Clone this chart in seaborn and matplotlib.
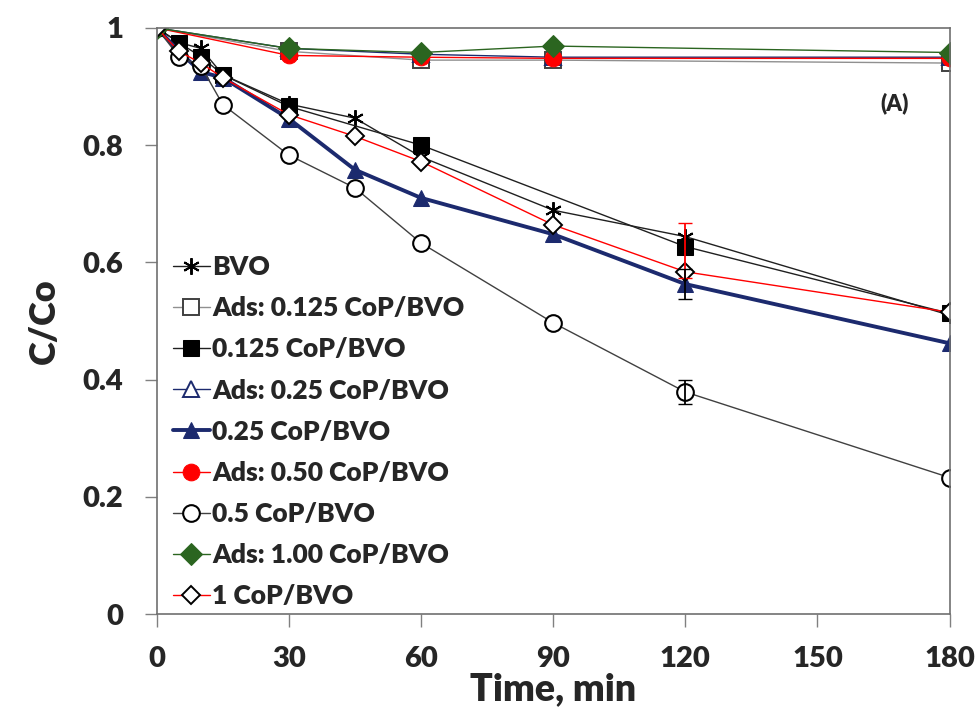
import numpy as np
import matplotlib
matplotlib.use('Agg')
import matplotlib.pyplot as plt
import seaborn as sns

# ============ DATA ============
t_full = [0, 5, 10, 15, 30, 45, 60, 90, 120, 180]
t_ads = [0, 30, 60, 90, 180]
t_125 = [0, 5, 10, 15, 30, 60, 120, 180]

bvo = [1.0, 0.975, 0.965, 0.92, 0.87, 0.846, 0.78, 0.689, 0.644, 0.51]
ads_0125 = [1.0, 0.96, 0.945, 0.945, 0.94]
cop_0125 = [1.0, 0.975, 0.951, 0.92, 0.866, 0.80, 0.627, 0.513]
ads_025 = [1.0, 0.965, 0.955, 0.95, 0.95]
cop_025 = [1.0, 0.96, 0.925, 0.915, 0.845, 0.758, 0.71, 0.648, 0.563, 0.462]
ads_050 = [1.0, 0.953, 0.95, 0.948, 0.948]
cop_05 = [1.0, 0.951, 0.935, 0.869, 0.783, 0.727, 0.633, 0.497, 0.379, 0.233]
ads_100 = [1.0, 0.965, 0.958, 0.969, 0.958]
cop_1 = [1.0, 0.96, 0.94, 0.915, 0.852, 0.815, 0.772, 0.664, 0.584, 0.515]

labels = ['BVO', 'Ads: 0.125 CoP/BVO', '0.125 CoP/BVO', 'Ads: 0.25 CoP/BVO',
          '0.25 CoP/BVO', 'Ads: 0.50 CoP/BVO', '0.5 CoP/BVO',
          'Ads: 1.00 CoP/BVO', '1 CoP/BVO']

# ============ STYLE PER SERIES ============
navy = '#1c2a6e'
green = '#2b6520'
series = [
    (t_full, bvo, dict(color='#202020', lw=1.0, marker=(6, 2, 0), ms=12, mec='black', mew=1.4)),
    (t_ads, ads_0125, dict(color='#909090', lw=1.0, marker='s', ms=11, mfc='white', mec='#404040', mew=1.4)),
    (t_125, cop_0125, dict(color='#202020', lw=1.0, marker='s', ms=11, mfc='black', mec='black')),
    (t_ads, ads_025, dict(color=navy, lw=1.0, marker='^', ms=11, mfc='white', mec=navy, mew=1.4)),
    (t_full, cop_025, dict(color=navy, lw=2.8, marker='^', ms=12, mfc=navy, mec=navy)),
    (t_ads, ads_050, dict(color='red', lw=1.0, marker='o', ms=12, mfc='red', mec='red')),
    (t_full, cop_05, dict(color='#404040', lw=1.0, marker='o', ms=12, mfc='white', mec='black', mew=1.5)),
    (t_ads, ads_100, dict(color=green, lw=1.0, marker='D', ms=11, mfc=green, mec=green)),
    (t_full, cop_1, dict(color='red', lw=1.0, marker='D', ms=9, mfc='white', mec='black', mew=1.4)),
]

sns.set_theme(style='white')
plt.rcParams['font.family'] = ['Lato', 'DejaVu Sans']
plt.rcParams['font.weight'] = 'bold'

fig = plt.figure(figsize=(9.8, 7.15), dpi=100)
ax = fig.add_axes([0.160, 0.141, 0.809, 0.820])

for (t, y, kw), lab in zip(series, labels):
    sns.lineplot(x=t, y=y, ax=ax, label=lab, **kw)

# error bars at 120 min
ax.errorbar([120], [0.584], yerr=[[0.01], [0.083]], fmt='none', ecolor='red', elinewidth=1.3, capsize=5)
ax.errorbar([120], [0.563], yerr=0.025, fmt='none', ecolor='black', elinewidth=1.3, capsize=5)
ax.errorbar([120], [0.379], yerr=0.02, fmt='none', ecolor='black', elinewidth=1.3, capsize=5)

ax.set_xlim(0, 180)
ax.set_ylim(0, 1)
ax.set_xticks([0, 30, 60, 90, 120, 150, 180])
ax.set_yticks([0, 0.2, 0.4, 0.6, 0.8, 1.0])
ax.set_yticklabels(['0', '0.2', '0.4', '0.6', '0.8', '1'])
ax.tick_params(axis='both', direction='out', length=9, width=1, color='#808080',
               labelsize=21, left=True, bottom=True)
ax.tick_params(axis='x', pad=14)
ax.tick_params(axis='y', pad=15)
for lab in ax.get_xticklabels() + ax.get_yticklabels():
    lab.set_fontweight('heavy')
for s in ax.spines.values():
    s.set_color('#707070')
    s.set_linewidth(1.2)

ax.set_xlabel('Time, min', fontsize=27, fontweight='heavy', labelpad=0)
ax.set_ylabel('C/Co', fontsize=26, fontweight='heavy', labelpad=16)
ax.text(0.93, 0.86, '(A)', transform=ax.transAxes, fontsize=16, fontweight='heavy', ha='center')

leg = ax.legend(loc='lower left', bbox_to_anchor=(0.0, -0.017), frameon=False,
                fontsize=19, handlelength=1.4, handletextpad=0.1,
                labelspacing=0.65, borderaxespad=0.2)
for txt in leg.get_texts():
    txt.set_fontweight('heavy')

fig.savefig('out.png', dpi=100)
